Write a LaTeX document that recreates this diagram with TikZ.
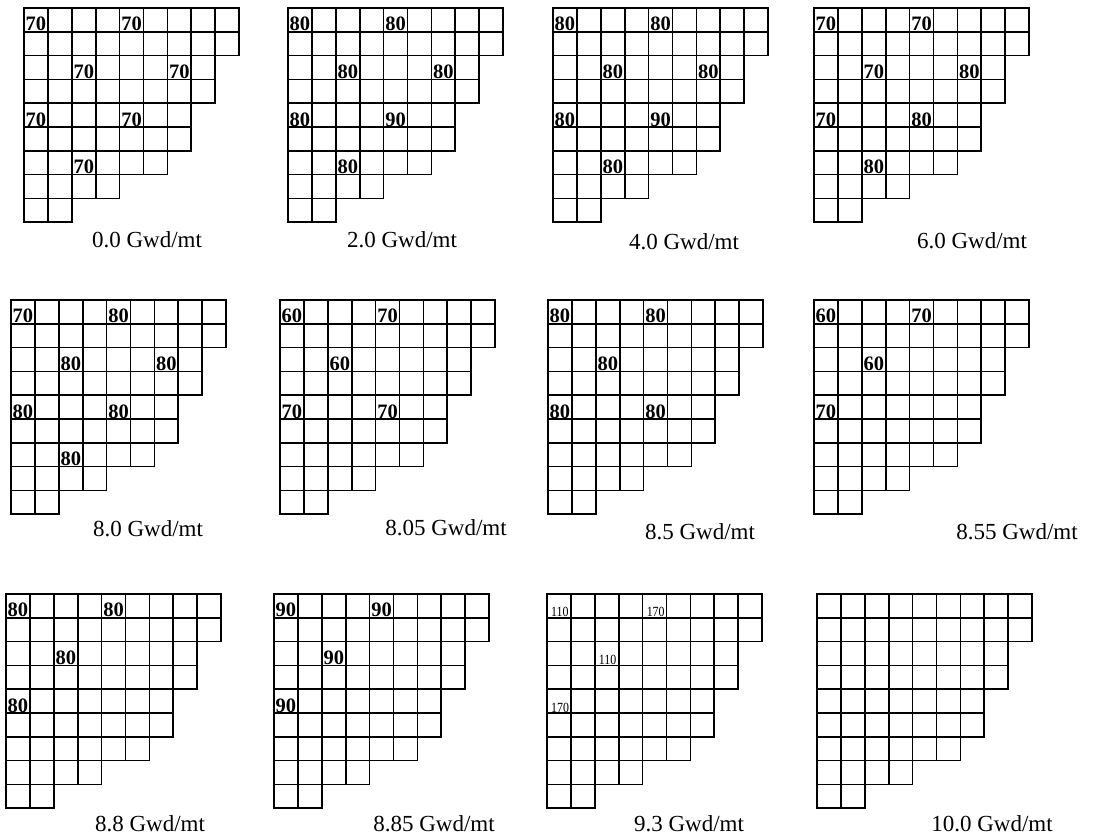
\documentclass[tikz,border=0pt]{standalone}
\usepackage{fontspec}
\setmainfont{Liberation Serif}
\begin{document}
\begin{tikzpicture}[x=1pt,y=-1pt,
  gridline/.style={line width=1.7pt, black},
  cellnum/.style={font=\fontsize{20.5}{20.5}\selectfont\bfseries, inner sep=0pt, anchor=base west},
  smallnum/.style={font=\fontsize{14}{14}\selectfont, inner sep=0pt, anchor=base west, xscale=0.85},
  burnup/.style={font=\fontsize{23}{23}\selectfont, inner sep=0pt, anchor=base}]
\useasboundingbox (0,0) rectangle (1100,836);
\def\cw{23.9}\def\ch{23.8}
\newcommand{\panelgrid}[2]{%
  \begin{scope}[shift={(#1,#2)}]
    \foreach \r/\L in {0/9,1/9,2/8,3/8,4/7,5/7,6/6,7/4,8/2} {
      \foreach \c in {1,...,\L} {
        \draw[gridline] ({(\c-1)*\cw},{\r*\ch}) rectangle ++(\cw,\ch);
      }
    }
  \end{scope}}
% cell label: #1 name, #2 panel x, #3 panel y, #4 row, #5 col, #6 text
\newcommand{\cellval}[6]{%
  \node[cellnum] (#1) at ({#2+#5*\cw+1.5},{#3+(#4+1)*\ch-1}) {#6};}
\newcommand{\cellsmall}[6]{%
  \node[smallnum] (#1) at ({#2+#5*\cw+4},{#3+(#4+1)*\ch-1}) {#6};}

% ---------- row 1 ----------
\panelgrid{24}{8}
\cellval{a1}{24}{8}{0}{0}{70}\cellval{a2}{24}{8}{0}{4}{70}
\cellval{a3}{24}{8}{2}{2}{70}\cellval{a4}{24}{8}{2}{6}{70}
\cellval{a5}{24}{8}{4}{0}{70}\cellval{a6}{24}{8}{4}{4}{70}
\cellval{a7}{24}{8}{6}{2}{70}
\node[burnup] (la) at (147,247) {0.0 Gwd/mt};

\panelgrid{288}{8}
\cellval{b1}{288}{8}{0}{0}{80}\cellval{b2}{288}{8}{0}{4}{80}
\cellval{b3}{288}{8}{2}{2}{80}\cellval{b4}{288}{8}{2}{6}{80}
\cellval{b5}{288}{8}{4}{0}{80}\cellval{b6}{288}{8}{4}{4}{90}
\cellval{b7}{288}{8}{6}{2}{80}
\node[burnup] (lb) at (402,247) {2.0 Gwd/mt};

\panelgrid{553}{8}
\cellval{c1}{553}{8}{0}{0}{80}\cellval{c2}{553}{8}{0}{4}{80}
\cellval{c3}{553}{8}{2}{2}{80}\cellval{c4}{553}{8}{2}{6}{80}
\cellval{c5}{553}{8}{4}{0}{80}\cellval{c6}{553}{8}{4}{4}{90}
\cellval{c7}{553}{8}{6}{2}{80}
\node[burnup] (lc) at (684,249) {4.0 Gwd/mt};

\panelgrid{814}{8}
\cellval{d1}{814}{8}{0}{0}{70}\cellval{d2}{814}{8}{0}{4}{70}
\cellval{d3}{814}{8}{2}{2}{70}\cellval{d4}{814}{8}{2}{6}{80}
\cellval{d5}{814}{8}{4}{0}{70}\cellval{d6}{814}{8}{4}{4}{80}
\cellval{d7}{814}{8}{6}{2}{80}
\node[burnup] (ld) at (972,248) {6.0 Gwd/mt};

% ---------- row 2 ----------
\panelgrid{11}{300}
\cellval{e1}{11}{300}{0}{0}{70}\cellval{e2}{11}{300}{0}{4}{80}
\cellval{e3}{11}{300}{2}{2}{80}\cellval{e4}{11}{300}{2}{6}{80}
\cellval{e5}{11}{300}{4}{0}{80}\cellval{e6}{11}{300}{4}{4}{80}
\cellval{e7}{11}{300}{6}{2}{80}
\node[burnup] (le) at (148,536) {8.0 Gwd/mt};

\panelgrid{280}{300}
\cellval{f1}{280}{300}{0}{0}{60}\cellval{f2}{280}{300}{0}{4}{70}
\cellval{f3}{280}{300}{2}{2}{60}
\cellval{f5}{280}{300}{4}{0}{70}\cellval{f6}{280}{300}{4}{4}{70}
\node[burnup] (lf) at (446,535) {8.05 Gwd/mt};

\panelgrid{548}{300}
\cellval{g1}{548}{300}{0}{0}{80}\cellval{g2}{548}{300}{0}{4}{80}
\cellval{g3}{548}{300}{2}{2}{80}
\cellval{g5}{548}{300}{4}{0}{80}\cellval{g6}{548}{300}{4}{4}{80}
\node[burnup] (lg) at (700,539) {8.5 Gwd/mt};

\panelgrid{814}{300}
\cellval{h1}{814}{300}{0}{0}{60}\cellval{h2}{814}{300}{0}{4}{70}
\cellval{h3}{814}{300}{2}{2}{60}
\cellval{h5}{814}{300}{4}{0}{70}
\node[burnup] (lh) at (1017,539) {8.55 Gwd/mt};

% ---------- row 3 ----------
\panelgrid{6}{594}
\cellval{i1}{6}{594}{0}{0}{80}\cellval{i2}{6}{594}{0}{4}{80}
\cellval{i3}{6}{594}{2}{2}{80}
\cellval{i5}{6}{594}{4}{0}{80}
\node[burnup] (li) at (150,831) {8.8 Gwd/mt};

\panelgrid{274}{594}
\cellval{j1}{274}{594}{0}{0}{90}\cellval{j2}{274}{594}{0}{4}{90}
\cellval{j3}{274}{594}{2}{2}{90}
\cellval{j5}{274}{594}{4}{0}{90}
\node[burnup] (lj) at (434,831) {8.85 Gwd/mt};

\panelgrid{547}{594}
\cellsmall{k1}{547}{594}{0}{0}{110}\cellsmall{k2}{547}{594}{0}{4}{170}
\cellsmall{k3}{547}{594}{2}{2}{110}
\cellsmall{k5}{547}{594}{4}{0}{170}
\node[burnup] (lk) at (689,831) {9.3 Gwd/mt};

\panelgrid{817}{594}
\node[burnup] (ll) at (992,831) {10.0 Gwd/mt};
\end{tikzpicture}
\end{document}
